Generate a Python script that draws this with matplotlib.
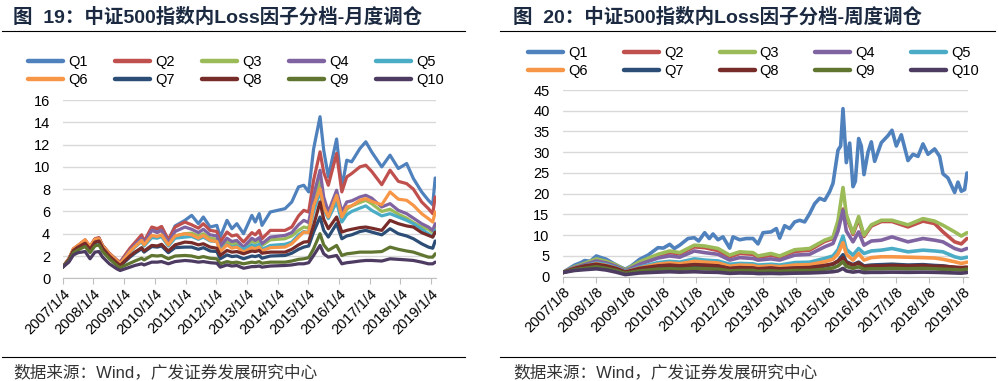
import matplotlib
matplotlib.use("Agg")
import matplotlib.pyplot as plt
from matplotlib.lines import Line2D

plt.rcParams['font.family'] = ['Liberation Sans', 'Noto Sans CJK SC']

# ---- data: left panel (monthly rebalancing) ----
L_DATES = [2007.00, 2007.20, 2007.35, 2007.50, 2007.73, 2007.89, 2008.05, 2008.18, 2008.30, 2008.52,
           2008.76, 2008.87, 2009.19, 2009.35, 2009.57, 2009.65, 2009.90, 2010.08, 2010.22, 2010.44,
           2010.66, 2010.98, 2011.20, 2011.42, 2011.58, 2011.80, 2012.02, 2012.13, 2012.35, 2012.51,
           2012.67, 2012.89, 2013.16, 2013.27, 2013.40, 2013.49, 2013.76, 2014.24, 2014.46, 2014.68,
           2014.85, 2015.01, 2015.17, 2015.38, 2015.50, 2015.65, 2015.92, 2016.09, 2016.25, 2016.41,
           2016.68, 2016.87, 2017.06, 2017.39, 2017.66, 2017.93, 2018.20, 2018.42, 2018.69, 2018.91,
           2019.05, 2019.13]

L_Q1 = [1.0, 1.7, 2.6, 2.9, 3.4, 2.8, 3.5, 3.6, 2.9, 2.2, 1.6, 1.4, 2.6, 3.1, 3.7, 3.2, 4.4, 4.3, 4.6, 3.4,
        4.7, 5.2, 5.65, 4.9, 5.5, 4.6, 4.75, 3.7, 5.2, 4.45, 4.9, 4.0, 5.65, 5.05, 5.8, 4.75, 5.95, 6.25,
        6.85, 8.2, 8.35, 7.75, 11.6, 14.5, 11.5, 9.1, 12.5, 8.1, 10.6, 10.45, 11.65, 12.25, 11.35, 10.0,
        11.05, 9.85, 10.3, 8.95, 7.75, 7.0, 6.6, 9.0]
L_Q2 = [1.0, 1.75, 2.65, 2.95, 3.45, 2.85, 3.55, 3.65, 2.95, 2.25, 1.65, 1.45, 2.7, 3.2, 3.9, 3.3, 4.6, 4.45,
        4.65, 3.45, 4.6, 5.05, 4.8, 4.5, 4.9, 4.3, 4.2, 3.25, 4.15, 3.8, 3.9, 3.25, 4.1, 3.9, 4.3, 3.55,
        4.3, 4.3, 4.6, 5.6, 6.1, 5.95, 8.8, 11.35, 9.5, 8.35, 11.2, 7.75, 9.1, 9.4, 10.0, 10.15, 9.6, 8.4,
        9.7, 8.7, 8.5, 8.0, 6.85, 6.25, 5.8, 7.3]
L_Q3 = [1.0, 1.7, 2.55, 2.85, 3.3, 2.75, 3.4, 3.5, 2.85, 2.15, 1.55, 1.3, 2.4, 2.85, 3.4, 2.95, 3.75, 3.65,
        3.8, 2.95, 3.8, 4.0, 4.05, 3.8, 4.0, 3.6, 3.5, 2.7, 3.3, 3.05, 3.15, 2.7, 3.3, 3.2, 3.4, 2.95,
        3.45, 3.55, 3.8, 4.3, 4.6, 4.5, 6.8, 8.8, 6.8, 5.8, 7.3, 5.35, 6.2, 6.5, 6.8, 7.0, 6.7, 6.0,
        6.2, 5.75, 5.4, 5.0, 4.6, 4.4, 4.1, 4.6]
L_Q4 = [1.0, 1.7, 2.6, 2.9, 3.35, 2.8, 3.45, 3.55, 2.9, 2.2, 1.6, 1.35, 2.5, 3.0, 3.6, 3.1, 4.3, 4.1,
        4.3, 3.2, 4.2, 4.6, 4.4, 4.1, 4.4, 3.9, 3.8, 2.85, 3.6, 3.3, 3.4, 2.8, 3.6, 3.4, 3.65, 3.1,
        3.7, 3.85, 4.1, 4.8, 5.2, 5.0, 7.4, 9.7, 7.3, 5.95, 7.9, 5.95, 6.85, 6.95, 7.3, 7.45, 7.2, 6.4,
        6.7, 6.1, 5.8, 5.4, 4.9, 4.6, 4.3, 4.9]
L_Q5 = [1.0, 1.7, 2.55, 2.85, 3.25, 2.7, 3.35, 3.45, 2.8, 2.1, 1.5, 1.25, 2.35, 2.8, 3.3, 2.9, 3.65, 3.6,
        3.75, 2.9, 3.6, 3.7, 3.75, 3.5, 3.7, 3.35, 3.3, 2.5, 3.05, 2.8, 2.9, 2.6, 3.0, 2.9, 3.05, 2.6,
        2.95, 3.05, 3.25, 3.9, 4.2, 4.1, 6.0, 7.75, 6.2, 5.35, 6.85, 5.05, 5.7, 6.0, 6.3, 6.5, 6.1, 5.6,
        5.8, 5.5, 5.2, 4.9, 4.4, 4.0, 3.7, 4.3]
L_Q6 = [1.0, 1.75, 2.65, 2.95, 3.45, 2.85, 3.5, 3.55, 2.9, 2.2, 1.6, 1.3, 2.4, 2.85, 3.4, 3.0, 3.85, 3.75,
        3.9, 3.0, 3.8, 4.0, 3.9, 3.6, 3.85, 3.4, 3.3, 2.4, 3.0, 2.7, 2.8, 2.35, 2.75, 2.65, 2.8, 2.45,
        2.75, 2.8, 3.1, 3.7, 4.15, 4.1, 6.5, 8.05, 6.4, 5.5, 7.45, 5.5, 6.4, 6.5, 7.0, 7.15, 6.9, 6.6,
        7.75, 7.1, 7.0, 6.55, 5.8, 5.35, 5.05, 5.95]
L_Q7 = [1.0, 1.65, 2.45, 2.75, 3.1, 2.55, 3.2, 3.3, 2.65, 1.95, 1.35, 1.1, 1.9, 2.25, 2.65, 2.35, 2.85, 2.8,
        2.9, 2.3, 2.75, 2.8, 2.8, 2.6, 2.75, 2.45, 2.4, 1.75, 2.1, 1.95, 2.0, 1.75, 2.0, 1.95, 2.05, 1.8,
        2.0, 2.05, 2.25, 2.6, 2.8, 2.9, 4.15, 5.5, 4.3, 3.7, 4.9, 3.55, 3.8, 3.9, 4.2, 4.3, 4.15, 3.9,
        4.45, 4.0, 3.8, 3.55, 3.1, 2.8, 2.7, 3.35]
L_Q8 = [1.0, 1.65, 2.5, 2.8, 3.15, 2.6, 3.25, 3.35, 2.7, 2.0, 1.4, 1.15, 2.0, 2.35, 2.75, 2.45, 2.95, 2.9,
        3.05, 2.45, 3.0, 3.25, 3.2, 3.0, 3.1, 2.8, 2.7, 2.05, 2.5, 2.35, 2.4, 2.2, 2.45, 2.4, 2.5, 2.25,
        2.35, 2.35, 2.6, 3.0, 3.25, 3.3, 4.75, 6.85, 5.3, 4.45, 5.5, 4.15, 4.3, 4.4, 4.55, 4.6, 4.5, 4.3,
        5.2, 4.9, 4.7, 4.6, 4.1, 3.85, 3.7, 4.15]
L_Q9 = [1.0, 1.55, 2.3, 2.55, 2.85, 2.3, 2.9, 3.0, 2.4, 1.75, 1.15, 0.95, 1.35, 1.55, 1.8, 1.65, 2.05, 2.0,
        2.05, 1.75, 2.0, 2.05, 2.0, 1.85, 1.95, 1.8, 1.75, 1.3, 1.5, 1.4, 1.45, 1.3, 1.45, 1.4, 1.5, 1.35,
        1.45, 1.45, 1.55, 1.7, 1.75, 1.85, 2.65, 4.0, 3.0, 2.5, 2.95, 2.05, 2.2, 2.25, 2.35, 2.35, 2.35, 2.4,
        2.8, 2.6, 2.45, 2.35, 2.1, 1.9, 1.9, 2.2]
L_Q10 = [1.0, 1.45, 2.1, 2.3, 2.4, 1.75, 2.35, 2.4, 1.9, 1.3, 0.85, 0.7, 1.0, 1.15, 1.3, 1.2, 1.45, 1.45,
         1.5, 1.3, 1.5, 1.6, 1.55, 1.45, 1.5, 1.4, 1.35, 1.0, 1.2, 1.1, 1.15, 0.9, 1.05, 1.05, 1.1, 1.0,
         1.1, 1.15, 1.2, 1.3, 1.3, 1.4, 2.05, 2.95, 2.2, 1.9, 2.05, 1.3, 1.4, 1.45, 1.55, 1.6, 1.6, 1.55,
         1.75, 1.7, 1.65, 1.6, 1.45, 1.3, 1.3, 1.45]

# ---- data: right panel (weekly rebalancing) ----
R_DATES_Q1 = [2007.00, 2007.20, 2007.36, 2007.55, 2007.66, 2007.82, 2008.01, 2008.15, 2008.31, 2008.50,
              2008.71, 2008.88, 2009.06, 2009.31, 2009.56, 2009.86, 2010.02, 2010.21, 2010.35, 2010.51,
              2010.76, 2010.95, 2011.08, 2011.26, 2011.40, 2011.51, 2011.66, 2011.81, 2012.01, 2012.11,
              2012.31, 2012.51, 2012.71, 2012.86, 2013.01, 2013.25, 2013.41, 2013.51, 2013.66, 2013.81,
              2013.96, 2014.11, 2014.26, 2014.41, 2014.56, 2014.71, 2014.86, 2015.01, 2015.11, 2015.26,
              2015.34, 2015.41, 2015.51, 2015.61, 2015.71, 2015.78, 2015.88, 2015.96, 2016.04, 2016.16,
              2016.26, 2016.36, 2016.56, 2016.76, 2016.88, 2017.01, 2017.16, 2017.36, 2017.51, 2017.66,
              2017.81, 2017.96, 2018.16, 2018.31, 2018.41, 2018.56, 2018.76, 2018.86, 2018.96, 2019.06,
              2019.13]
R_Q1 = [1.0, 2.0, 2.8, 3.4, 3.9, 3.7, 5.0, 4.6, 4.2, 3.3, 2.4, 1.8, 2.6, 4.2, 5.2, 7.0, 6.9, 7.8, 6.8, 7.6,
        9.2, 9.4, 8.6, 10.6, 9.2, 10.3, 8.9, 9.6, 6.9, 9.6, 8.9, 9.2, 9.2, 7.9, 10.6, 10.8, 11.6, 9.3, 12.3,
        11.6, 13.2, 13.6, 13.2, 15.2, 17.6, 18.9, 18.4, 20.5, 22.5, 30.5, 31.5, 40.5, 27.5, 32.2, 21.7, 23.0,
        33.3, 31.5, 24.6, 30.0, 32.5, 27.8, 32.3, 34.0, 35.3, 31.5, 34.2, 28.0, 29.5, 29.0, 32.0, 29.5, 30.8,
        29.0, 24.8, 23.8, 20.3, 22.8, 20.6, 21.0, 25.0]

R_DATES = [2007.00, 2007.36, 2007.66, 2008.01, 2008.31, 2008.60, 2008.88, 2009.31, 2009.86, 2010.21,
           2010.51, 2010.95, 2011.26, 2011.66, 2012.01, 2012.31, 2012.71, 2012.86, 2013.25, 2013.51,
           2013.96, 2014.41, 2014.86, 2015.11, 2015.26, 2015.41, 2015.51, 2015.71, 2015.88, 2016.04,
           2016.26, 2016.56, 2016.88, 2017.36, 2017.81, 2018.16, 2018.41, 2018.76, 2018.96, 2019.13]
R_Q2 = [1.0, 2.3, 3.1, 4.1, 3.6, 2.7, 1.5, 3.4, 5.1, 5.8, 5.5, 7.2, 7.0, 6.3, 4.8, 5.6, 5.4, 4.6, 5.2, 4.7,
        6.1, 6.4, 8.5, 9.2, 13.0, 16.3, 14.5, 10.2, 13.9, 9.7, 12.2, 13.3, 13.3, 12.0, 13.4, 12.8, 10.8, 8.4,
        7.9, 9.2]
R_Q3 = [1.0, 2.4, 3.2, 4.3, 3.7, 2.8, 1.6, 3.6, 5.4, 6.2, 5.8, 7.6, 7.4, 6.8, 5.2, 6.0, 5.8, 5.0, 5.6, 5.0,
        6.5, 6.8, 8.8, 9.5, 13.5, 21.5, 15.0, 10.5, 14.5, 10.0, 12.5, 13.6, 13.6, 12.5, 14.0, 13.4, 12.4, 10.8,
        9.8, 10.6]
R_Q4 = [1.0, 2.2, 2.9, 3.8, 3.3, 2.5, 1.4, 3.0, 4.5, 5.0, 4.7, 6.2, 5.8, 5.4, 4.0, 4.6, 4.4, 4.0, 4.3, 4.0,
        5.2, 5.4, 7.2, 8.0, 11.0, 16.0, 11.0, 8.4, 10.8, 7.6, 8.6, 8.8, 9.6, 8.4, 9.2, 8.8, 8.4, 6.8, 6.3, 6.8]
R_Q5 = [1.0, 2.0, 2.6, 3.3, 2.9, 2.2, 1.2, 2.3, 3.4, 3.7, 3.5, 4.3, 4.0, 3.8, 3.0, 3.2, 3.1, 2.8, 3.0, 2.8,
        3.4, 3.5, 4.4, 5.0, 6.5, 9.8, 6.6, 5.2, 6.8, 5.6, 6.2, 6.4, 6.8, 6.0, 6.4, 6.2, 6.0, 4.8, 4.4, 4.7]
R_Q6 = [1.0, 2.0, 2.5, 3.1, 2.7, 2.0, 1.1, 2.1, 3.0, 3.3, 3.1, 3.7, 3.5, 3.3, 2.5, 2.8, 2.7, 2.4, 2.6, 2.4,
        2.8, 2.9, 3.6, 4.2, 5.5, 8.2, 5.4, 4.0, 5.6, 4.0, 4.6, 4.8, 4.8, 4.7, 4.6, 4.5, 4.2, 3.6, 3.2, 3.5]
R_Q7 = [1.0, 1.9, 2.3, 2.8, 2.4, 1.8, 1.0, 1.8, 2.4, 2.6, 2.4, 2.8, 2.6, 2.5, 1.9, 2.1, 2.0, 1.8, 2.0, 1.8,
        2.0, 2.1, 2.6, 3.0, 3.8, 5.3, 3.6, 2.9, 3.5, 2.6, 2.8, 2.9, 3.0, 2.8, 2.9, 2.7, 2.6, 2.2, 2.0, 2.1]
R_Q8 = [1.0, 2.0, 2.6, 3.0, 2.6, 2.0, 1.1, 2.0, 2.6, 2.8, 2.6, 2.9, 2.8, 2.6, 2.0, 2.2, 2.1, 1.9, 2.1, 1.9,
        2.1, 2.2, 2.7, 3.1, 3.7, 4.6, 3.4, 2.8, 3.3, 2.4, 2.6, 2.6, 2.7, 2.6, 2.7, 2.5, 2.5, 2.3, 2.2, 2.3]
R_Q9 = [1.0, 1.7, 2.0, 2.4, 2.0, 1.5, 0.8, 1.4, 1.8, 1.9, 1.8, 2.0, 1.9, 1.8, 1.4, 1.5, 1.5, 1.3, 1.4, 1.3,
        1.5, 1.5, 1.8, 2.1, 2.6, 3.6, 2.5, 2.0, 2.4, 1.8, 1.9, 1.9, 2.0, 1.9, 2.0, 1.9, 1.8, 1.7, 1.6, 1.8]
R_Q10 = [1.0, 1.5, 1.7, 1.9, 1.6, 1.1, 0.5, 0.9, 1.1, 1.2, 1.1, 1.2, 1.1, 1.05, 0.8, 0.9, 0.85, 0.75, 0.8,
         0.75, 0.85, 0.9, 1.05, 1.2, 1.4, 2.0, 1.4, 1.1, 1.3, 1.0, 1.05, 1.05, 1.1, 1.05, 1.1, 1.05, 1.0, 0.9,
         0.85, 1.0]

LABELS = ["Q1", "Q2", "Q3", "Q4", "Q5", "Q6", "Q7", "Q8", "Q9", "Q10"]
COLORS = ["#4F81BD", "#C0504D", "#9BBB59", "#8064A2", "#4BACC6",
          "#F79646", "#2C4D75", "#772C2A", "#5F7530", "#4D3B62"]
YEARS = list(range(2007, 2020))

left_series = [L_Q1, L_Q2, L_Q3, L_Q4, L_Q5, L_Q6, L_Q7, L_Q8, L_Q9, L_Q10]
right_series = [R_Q1, R_Q2, R_Q3, R_Q4, R_Q5, R_Q6, R_Q7, R_Q8, R_Q9, R_Q10]
right_dates = [R_DATES_Q1] + [R_DATES] * 9

W, H = 999, 381
fig = plt.figure(figsize=(W / 100, H / 100), dpi=100)


def px_axes(x0, x1, ytop, ybot):
    return fig.add_axes([x0 / W, 1 - ybot / H, (x1 - x0) / W, (ybot - ytop) / H])


def style_axes(ax, ymax, ystep, xmax, day, ypad):
    ax.set_xlim(2007, xmax)
    ax.set_ylim(0, ymax)
    ax.set_yticks(range(0, ymax + 1, ystep))
    ax.set_xticks(YEARS)
    ax.set_xticklabels([f"{y}/1/{day}" for y in YEARS], rotation=45, ha="right",
                       rotation_mode="anchor", fontsize=10.5)
    ax.tick_params(axis="y", length=0, pad=ypad, labelsize=10.5)
    ax.tick_params(axis="x", length=4, color="#BFBFBF", pad=2)
    ax.yaxis.grid(True, color="#D9D9D9", lw=1)
    ax.set_axisbelow(True)
    for s in ["top", "right", "left"]:
        ax.spines[s].set_visible(False)
    ax.spines["bottom"].set_color("#BFBFBF")


# left panel
ax1 = px_axes(62.7, 435.8, 100, 278.3)
for d, v, lab, c in zip([L_DATES] * 10, left_series, LABELS, COLORS):
    ax1.plot(d, v, color=c, lw=2.3, label=lab, solid_capstyle="round", solid_joinstyle="round")
style_axes(ax1, 16, 2, 2019.15, 4, 9)

# right panel
ax2 = px_axes(562.7, 968.3, 90, 276.7)
for d, v, lab, c in zip(right_dates, right_series, LABELS, COLORS):
    ax2.plot(d, v, color=c, lw=2.6, label=lab, solid_capstyle="round", solid_joinstyle="round")
style_axes(ax2, 45, 5, 2019.17, 8, 9.5)

# legends: matplotlib fills columns first, so reorder to get Q1..Q5 on the first row
order = [0, 5, 1, 6, 2, 7, 3, 8, 4, 9]
for x0, ytop, colsp in [(28, 55, 1.88), (528, 46, 2.48)]:
    handles = [Line2D([0], [0], color=COLORS[i], lw=3.2, solid_capstyle="round") for i in order]
    fig.legend(handles, [LABELS[i] for i in order], loc="upper left",
               bbox_to_anchor=(x0 / W, 1 - ytop / H),
               ncol=5, frameon=False, fontsize=10.5, handlelength=2.4, handletextpad=0.35,
               columnspacing=colsp, labelspacing=0.3, borderpad=0, borderaxespad=0)

# titles, rules and source notes
title_font = ['Liberation Sans', 'Noto Sans CJK SC']
fig.text(13 / W, 1 - 17 / H, "图  19：中证500指数内Loss因子分档-月度调仓", fontsize=14,
         fontweight="bold", color="#1B2A41", va="center", family=title_font)
fig.text(513 / W, 1 - 17 / H, "图  20：中证500指数内Loss因子分档-周度调仓", fontsize=14,
         fontweight="bold", color="#1B2A41", va="center", family=title_font)
for xa, xb in [(2, 465), (500, 995)]:
    fig.add_artist(Line2D([xa / W, xb / W], [1 - 31 / H] * 2, color="black", lw=0.8))
    fig.add_artist(Line2D([xa / W, xb / W], [1 - 357 / H] * 2, color="black", lw=0.8))
fig.text(13 / W, 1 - 372 / H, "数据来源：Wind，广发证券发展研究中心", fontsize=12,
         color="#333333", va="center", family=title_font)
fig.text(513 / W, 1 - 372 / H, "数据来源：Wind，广发证券发展研究中心", fontsize=12,
         color="#333333", va="center", family=title_font)

fig.savefig("out.png", dpi=100)
